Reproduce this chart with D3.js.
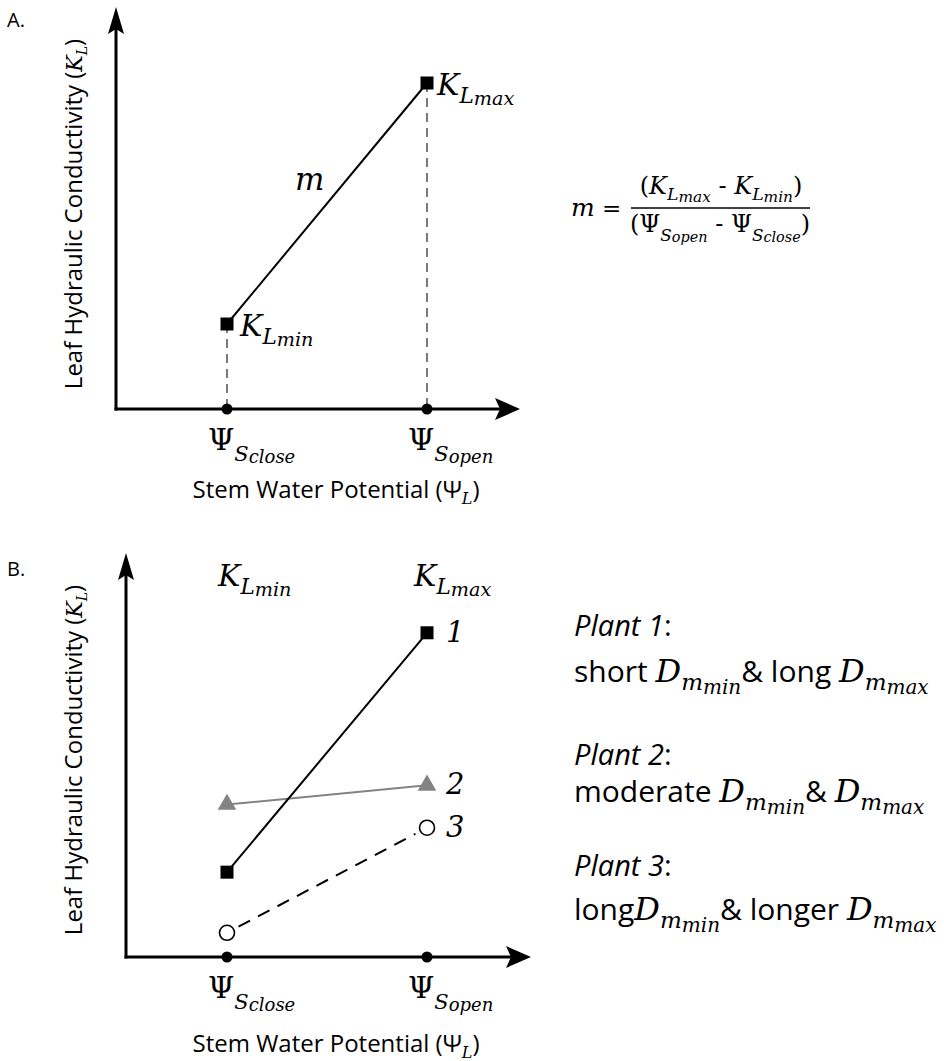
<!DOCTYPE html>
<html>
<head>
<meta charset="utf-8">
<script src="https://cdn.jsdelivr.net/npm/d3@7"></script>
<style>
  html, body { margin: 0; padding: 0; background: #fff; }
  svg { display: block; }
</style>
</head>
<body>
<svg id="chart" width="944" height="1061"></svg>
<script>
// ---- data -------------------------------------------------------------
// Stem water potential positions (closing and opening thresholds)
const psiKeys = ["close", "open"];
const psiValues = [1, 3];

// Panel A: leaf hydraulic conductivity at the two thresholds
const kLabels = ["min", "max"];
const kValuesA = [0.85, 3.26];

// Panel B: three example plants (K_L at close, K_L at open)
const plantIds = ["1", "2", "3"];
const plant1 = [0.84, 3.21];
const plant2 = [1.51, 1.70];
const plant3 = [0.24, 1.28];
const plantDescriptions = [
  [{t: "short "}, {D: "min"}, {t: "& long "}, {D: "max"}],
  [{t: "moderate "}, {D: "min"}, {t: "& "}, {D: "max"}],
  [{t: "long"}, {D: "min"}, {t: "& longer "}, {D: "max"}]
];

// ---- styling ----------------------------------------------------------
const SANS = "'Open Sans', 'Noto Sans', sans-serif";
const SERIF = "'DejaVu Serif', 'Liberation Serif', serif";
const GREY = "#838383";

const svg = d3.select("#chart");

// shared horizontal scale
const x = d3.scaleLinear().domain([1, 3]).range([227, 427]);

// Write a line of mixed-font text; each run can be raised or lowered.
function richText(parent, px, py, runs, anchor) {
  const t = parent.append("text")
    .attr("x", px).attr("y", py)
    .attr("text-anchor", anchor || "start")
    .attr("fill", "#000");
  let cur = 0;
  runs.forEach(r => {
    const off = r.off || 0;
    t.append("tspan")
      .attr("dy", off - cur)
      .style("font-family", r.font || SANS)
      .style("font-size", (r.size || 20) + "px")
      .style("font-style", r.italic ? "italic" : "normal")
      .text(r.t);
    cur = off;
  });
  return t;
}

function kRuns(sub, size) {
  const s = size || 30;
  return [
    {t: "K", font: SERIF, italic: true, size: s},
    {t: "L", font: SERIF, italic: true, size: s * 0.72, off: s * 0.26},
    {t: sub, font: SERIF, italic: true, size: s * 0.64, off: s * 0.32}
  ];
}
function psiRuns(sub, size) {
  const s = size || 30;
  return [
    {t: "Ψ", font: SERIF, size: s},
    {t: "S", font: SERIF, italic: true, size: s * 0.7, off: s * 0.36},
    {t: sub, font: SERIF, italic: true, size: s * 0.6, off: s * 0.42}
  ];
}

function arrowAxes(g, ox, oy, topY, tipX) {
  g.append("line").attr("x1", ox).attr("y1", oy + 1.5).attr("x2", ox).attr("y2", topY + 20)
    .attr("stroke", "#000").attr("stroke-width", 3);
  g.append("line").attr("x1", ox - 1.5).attr("y1", oy).attr("x2", tipX - 18).attr("y2", oy)
    .attr("stroke", "#000").attr("stroke-width", 3);
  g.append("path")
    .attr("d", `M${ox},${topY} L${ox + 8},${topY + 27} L${ox},${topY + 22} L${ox - 8},${topY + 27} Z`)
    .attr("fill", "#000");
  g.append("path")
    .attr("d", `M${tipX},${oy} L${tipX - 25},${oy - 11} L${tipX - 20},${oy} L${tipX - 25},${oy + 11} Z`)
    .attr("fill", "#000");
}

function axisTitles(g, ySpan, xTitleY) {
  richText(g, 336, xTitleY, [
    {t: "Stem Water Potential (Ψ", size: 24},
    {t: "L", font: SERIF, italic: true, size: 16, off: 6},
    {t: ")", size: 24}
  ], "middle");
  richText(g.append("g").attr("transform", `translate(82,${ySpan}) rotate(-90)`), 0, 0, [
    {t: "Leaf Hydraulic Conductivity (", size: 24},
    {t: "K", font: SERIF, italic: true, size: 22},
    {t: "L", font: SERIF, italic: true, size: 14, off: 5},
    {t: ")", size: 24}
  ], "middle");
}

function psiTicks(g, oy, labelY) {
  g.selectAll("circle.tick").data(psiValues).join("circle")
    .attr("class", "tick")
    .attr("cx", d => x(d)).attr("cy", oy).attr("r", 5.5).attr("fill", "#000");
  psiValues.forEach((v, i) => richText(g, x(v) - 19, labelY, psiRuns(psiKeys[i])));
}

// ---- Panel A ----------------------------------------------------------
const gA = svg.append("g");
const yA = d3.scaleLinear().domain([0, 4]).range([409, 9]);
richText(gA, 7, 27, [{t: "A.", size: 20}]);

// dashed drop lines
gA.selectAll("line.drop").data(psiValues).join("line")
  .attr("class", "drop")
  .attr("x1", d => x(d)).attr("x2", d => x(d))
  .attr("y1", (d, i) => yA(kValuesA[i])).attr("y2", yA(0))
  .attr("stroke", "#222").attr("stroke-width", 1.2).attr("stroke-dasharray", "9,6");

arrowAxes(gA, 116, 409, 7, 520);

const lineGen = (ys) => d3.line().x(d => x(d[0])).y(d => ys(d[1]));
gA.append("path")
  .datum(d3.zip(psiValues, kValuesA))
  .attr("d", lineGen(yA))
  .attr("fill", "none").attr("stroke", "#000").attr("stroke-width", 2);

gA.selectAll("rect.k").data(d3.zip(psiValues, kValuesA)).join("rect")
  .attr("class", "k")
  .attr("x", d => x(d[0]) - 6.5).attr("y", d => yA(d[1]) - 6.5)
  .attr("width", 13).attr("height", 13).attr("fill", "#000");

psiTicks(gA, 409, 450);
richText(gA, x(psiValues[0]) + 13, yA(kValuesA[0]) + 12, kRuns("min"));
richText(gA, x(psiValues[1]) + 10, yA(kValuesA[1]) + 12, kRuns("max"));
richText(gA, 295, 190, [{t: "m", font: SERIF, italic: true, size: 31}]);
axisTitles(gA, 214, 498);

// slope formula
richText(gA, 571, 216, [
  {t: "m", font: SERIF, italic: true, size: 25},
  {t: " =", font: SERIF, size: 23}
]);
gA.append("line").attr("x1", 631).attr("x2", 810).attr("y1", 208).attr("y2", 208)
  .attr("stroke", "#000").attr("stroke-width", 1.3);
richText(gA, 721, 194, [
  {t: "(", font: SERIF, size: 24},
  ...kRuns("max", 24),
  {t: " - ", font: SERIF, size: 24},
  ...kRuns("min", 24),
  {t: ")", font: SERIF, size: 24}
], "middle");
richText(gA, 720, 232, [
  {t: "(", font: SERIF, size: 24},
  ...psiRuns("open", 24),
  {t: " - ", font: SERIF, size: 24},
  ...psiRuns("close", 24),
  {t: ")", font: SERIF, size: 24}
], "middle");

// ---- Panel B ----------------------------------------------------------
const gB = svg.append("g");
const yB = d3.scaleLinear().domain([0, 4]).range([957, 553]);
richText(gB, 7, 576, [{t: "B.", size: 20}]);
arrowAxes(gB, 126, 957, 553, 531);

const plants = [plant1, plant2, plant3];

// plant 3: dashed segment between the open circles
{
  const p0 = [x(psiValues[0]), yB(plant3[0])], p1 = [x(psiValues[1]), yB(plant3[1])];
  const len = Math.hypot(p1[0] - p0[0], p1[1] - p0[1]);
  const ux = (p1[0] - p0[0]) / len, uy = (p1[1] - p0[1]) / len;
  gB.append("line")
    .attr("x1", p0[0] + ux * 13).attr("y1", p0[1] + uy * 13)
    .attr("x2", p1[0] - ux * 13).attr("y2", p1[1] - uy * 13)
    .attr("stroke", "#000").attr("stroke-width", 2).attr("stroke-dasharray", "13,9");
}
gB.append("path").datum(d3.zip(psiValues, plant2)).attr("d", lineGen(yB))
  .attr("fill", "none").attr("stroke", GREY).attr("stroke-width", 2);
gB.append("path").datum(d3.zip(psiValues, plant1)).attr("d", lineGen(yB))
  .attr("fill", "none").attr("stroke", "#000").attr("stroke-width", 2);

gB.selectAll("rect.p1").data(d3.zip(psiValues, plant1)).join("rect")
  .attr("class", "p1")
  .attr("x", d => x(d[0]) - 6.5).attr("y", d => yB(d[1]) - 6.5)
  .attr("width", 13).attr("height", 13).attr("fill", "#000");
gB.selectAll("path.p2").data(d3.zip(psiValues, plant2)).join("path")
  .attr("class", "p2")
  .attr("d", d3.symbol().type(d3.symbolTriangle).size(150))
  .attr("transform", d => `translate(${x(d[0])},${yB(d[1])})`)
  .attr("fill", GREY);
gB.selectAll("circle.p3").data(d3.zip(psiValues, plant3)).join("circle")
  .attr("class", "p3")
  .attr("cx", d => x(d[0])).attr("cy", d => yB(d[1])).attr("r", 7.5)
  .attr("fill", "#fff").attr("stroke", "#000").attr("stroke-width", 1.6);

plants.forEach((p, i) => {
  richText(gB, x(psiValues[1]) + 19, yB(p[1]) + 9, [{t: plantIds[i], font: SERIF, italic: true, size: 29}]);
});

psiTicks(gB, 957, 998);
richText(gB, x(psiValues[0]) - 9, 586, kRuns("min"));
richText(gB, x(psiValues[1]) - 13, 586, kRuns("max"));
axisTitles(gB, 760, 1052);

// plant descriptions
const descBase = [[636, 682], [765, 802], [876, 920]];
plantDescriptions.forEach((parts, i) => {
  richText(gB, 574, descBase[i][0], [
    {t: "Plant " + plantIds[i], italic: true, size: 29},
    {t: ":", size: 29}
  ]);
  const runs = [];
  parts.forEach(p => {
    if (p.t) runs.push({t: p.t, size: 30});
    else {
      runs.push({t: "D", font: SERIF, italic: true, size: 32});
      runs.push({t: "m", font: SERIF, italic: true, size: 23, off: 8});
      runs.push({t: p.D, font: SERIF, italic: true, size: 20, off: 12});
    }
  });
  richText(gB, 574, descBase[i][1], runs);
});
</script>
</body>
</html>
